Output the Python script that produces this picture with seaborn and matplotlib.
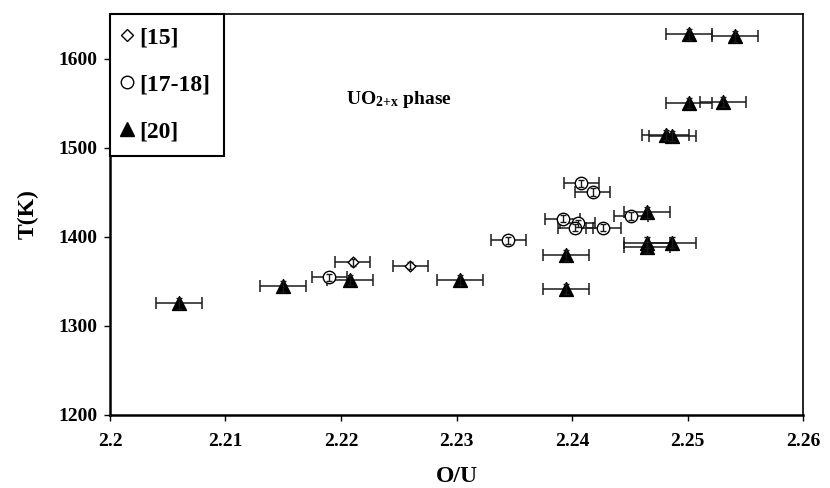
import numpy as np
import pandas as pd
import matplotlib
matplotlib.use("Agg")
import matplotlib.pyplot as plt
from matplotlib.lines import Line2D
import seaborn as sns

# ---- data ----
ref15_x = [2.2210, 2.2260]
ref15_T = [1371, 1367]

ref1718_x = [2.2190, 2.2345, 2.2408, 2.2418, 2.2392, 2.2405, 2.2403, 2.2427, 2.2451]
ref1718_T = [1354, 1396, 1460, 1450, 1420, 1415, 1410, 1410, 1423]

ref20_x = [2.2060, 2.2150, 2.2208, 2.2303, 2.2395, 2.2395, 2.2465, 2.2465, 2.2465,
           2.2487, 2.2481, 2.2487, 2.2501, 2.2531, 2.2501, 2.2541]
ref20_T = [1325, 1344, 1351, 1351, 1379, 1341, 1427, 1393, 1388,
           1393, 1514, 1513, 1550, 1551, 1627, 1625]

xerr_15 = 0.0015
xerr_1718 = 0.0015
xerr_20 = 0.002
yerr_15 = 4
yerr_1718 = 4
yerr_20 = 6

labels = ["[15]", "[17-18]", "[20]"]
xticks = [2.20, 2.21, 2.22, 2.23, 2.24, 2.25, 2.26]
xtick_labels = ["2.2", "2.21", "2.22", "2.23", "2.24", "2.25", "2.26"]
yticks = [1200, 1300, 1400, 1500, 1600]

# ---- style ----
sns.set_theme(style="ticks")
plt.rcParams['font.family'] = ['Liberation Serif', 'DejaVu Serif']
plt.rcParams['font.weight'] = 'bold'
plt.rcParams['text.color'] = 'black'
plt.rcParams['axes.labelcolor'] = 'black'
plt.rcParams['xtick.color'] = 'black'
plt.rcParams['ytick.color'] = 'black'
plt.rcParams['mathtext.fontset'] = 'custom'
plt.rcParams['mathtext.rm'] = 'Liberation Serif:bold'
plt.rcParams['mathtext.it'] = 'Liberation Serif:bold'
plt.rcParams['mathtext.bf'] = 'Liberation Serif:bold'

fig = plt.figure(figsize=(8.3, 4.88), dpi=100)
ax = fig.add_axes([110/830, 1 - 414.5/488, (803 - 110)/830, (414.5 - 14)/488])

groups = [
    (labels[0], ref15_x, ref15_T, xerr_15, yerr_15, 'D', 30, 'white'),
    (labels[1], ref1718_x, ref1718_T, xerr_1718, yerr_1718, 'o', 80, 'white'),
    (labels[2], ref20_x, ref20_T, xerr_20, yerr_20, '^', 100, 'black'),
]

# horizontal error bars beneath the markers
for lab, xs, ts, xe, ye, mk, s, fc in groups:
    ax.errorbar(xs, ts, xerr=xe, fmt='none', ecolor='#1a1a1a',
                elinewidth=1.1, capsize=4, capthick=1.1, zorder=2)

for lab, xs, ts, xe, ye, mk, s, fc in groups:
    df = pd.DataFrame({"OU": xs, "T": ts})
    sns.scatterplot(data=df, x="OU", y="T", marker=mk, s=s, color=fc,
                    edgecolor='black', linewidth=1.0, ax=ax, zorder=3, legend=False)

# small vertical error bars drawn over the markers
for lab, xs, ts, xe, ye, mk, s, fc in groups:
    ax.errorbar(xs, ts, yerr=ye, fmt='none', ecolor='#1a1a1a',
                elinewidth=1.0, capsize=2.5, capthick=1.0, zorder=4)

ax.set_xlim(2.20, 2.26)
ax.set_ylim(1200, 1650)
ax.set_xticks(xticks)
ax.set_xticklabels(xtick_labels)
ax.set_yticks(yticks)
ax.tick_params(direction='out', length=4, width=1, labelsize=14, colors='black')
ax.tick_params(axis='x', pad=9)
ax.tick_params(axis='y', pad=5)
for lbl in ax.get_xticklabels() + ax.get_yticklabels():
    lbl.set_fontweight('bold')

for side in ['left', 'bottom']:
    ax.spines[side].set_linewidth(1.8)
    ax.spines[side].set_color('black')
for side in ['top', 'right']:
    ax.spines[side].set_linewidth(1.2)
    ax.spines[side].set_color('black')

ax.set_xlabel("O/U", fontsize=17, fontweight='bold', labelpad=12)
ax.set_ylabel("T(K)", fontsize=17, fontweight='bold', labelpad=14)

ax.text(2.2204, 1549, r"UO$_{\rm 2\!+\!x}$ phase", fontsize=14, fontweight='bold',
        ha='left', va='baseline')

handles = [
    Line2D([], [], linestyle='none', marker='D', markersize=6, markerfacecolor='white',
           markeredgecolor='black', markeredgewidth=1.0),
    Line2D([], [], linestyle='none', marker='o', markersize=9, markerfacecolor='white',
           markeredgecolor='black', markeredgewidth=1.0),
    Line2D([], [], linestyle='none', marker='^', markersize=10, markerfacecolor='black',
           markeredgecolor='black'),
]
leg = ax.legend(handles, labels, loc='upper left', bbox_to_anchor=(0, 1),
                borderaxespad=0, frameon=True, fancybox=False,
                prop={'weight': 'bold', 'size': 17},
                handlelength=0.3, handletextpad=0.4, labelspacing=1.08, borderpad=0.55)
leg.get_frame().set_edgecolor('black')
leg.get_frame().set_linewidth(1.5)
leg.get_frame().set_alpha(1)

fig.savefig("out.png", dpi=100)
